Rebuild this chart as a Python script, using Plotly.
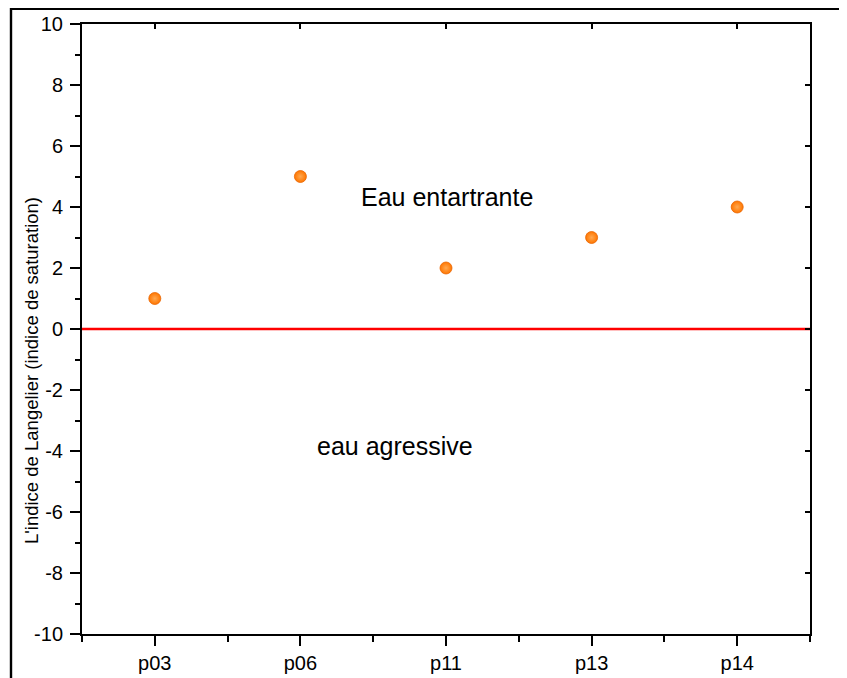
import plotly.graph_objects as go

categories = ["p03", "p06", "p11", "p13", "p14"]
values = [1, 5, 2, 3, 4]
y_ticks = [-10, -8, -6, -4, -2, 0, 2, 4, 6, 8, 10]
y_ticktext = [str(v) for v in y_ticks]  # hyphen-minus as in the original

W, H = 847, 678
OFF = 8  # page body margin
L, R, T, B = 82 - OFF, 810 - OFF, 24 - OFF, 634 - OFF

xpos = list(range(len(categories)))

fig = go.Figure()
fig.add_trace(go.Scatter(
    x=[-0.5, len(categories) - 0.5], y=[0, 0], mode="lines",
    line=dict(color="#ff0000", width=2.5), hoverinfo="skip", showlegend=False,
))
fig.add_trace(go.Scatter(
    x=xpos, y=values, mode="markers",
    marker=dict(size=12, color="#ff7600",
                gradient=dict(type="radial", color="#ffa850"),
                line=dict(color="#e86400", width=0.8)),
    showlegend=False,
))

font = dict(family="Arial, Liberation Sans, sans-serif", color="black")

def px_x(p):
    return (p - L) / (R - L)

def px_y(p):
    return (B - p) / (B - T)

fig.update_layout(
    width=W, height=H,
    margin=dict(l=L, r=W - R, t=T, b=H - B, autoexpand=False),
    paper_bgcolor="white", plot_bgcolor="white",
    font=font,
    xaxis=dict(
        range=[-0.5, len(categories) - 0.5], tickmode="array", tickvals=xpos,
        ticktext=categories, ticks="outside", ticklen=10, tickwidth=1.5,
        tickcolor="black", showline=True, linecolor="black", linewidth=2,
        showgrid=False, zeroline=False, tickfont=dict(size=20, **font),
        automargin=False,
        minor=dict(tickmode="array", tickvals=[-0.5, 0.5, 1.5, 2.5, 3.5, 4.5],
                   ticks="outside", ticklen=6, tickwidth=1.5, tickcolor="black",
                   showgrid=False),
        fixedrange=True,
    ),
    yaxis=dict(
        range=[-10, 10], tickmode="array", tickvals=y_ticks, ticktext=y_ticktext,
        ticks="outside", ticklen=10, tickwidth=1.5, tickcolor="black",
        showline=True, linecolor="black", linewidth=2, showgrid=False,
        zeroline=False, tickfont=dict(size=20, **font), ticklabelstandoff=3,
        automargin=False,
        minor=dict(dtick=1, tick0=0, ticks="outside", ticklen=5, tickwidth=1.5,
                   tickcolor="black", showgrid=False),
        fixedrange=True,
    ),
    xaxis2=dict(
        overlaying="x", side="top", range=[-0.5, len(categories) - 0.5],
        tickmode="array", tickvals=xpos, showticklabels=False,
        ticks="inside", ticklen=5, tickwidth=1.5, tickcolor="black",
        showline=True, linecolor="black", linewidth=2, showgrid=False,
        zeroline=False, automargin=False,
    ),
    yaxis2=dict(
        overlaying="y", side="right", range=[-10, 10],
        tickmode="array", tickvals=y_ticks, showticklabels=False,
        ticks="inside", ticklen=5, tickwidth=1.5, tickcolor="black",
        showline=True, linecolor="black", linewidth=2, showgrid=False,
        zeroline=False, automargin=False,
    ),
    annotations=[
        dict(x=2.01, y=4.33, xref="x", yref="y", text="Eau entartrante",
             showarrow=False, font=dict(size=25, **font)),
        dict(x=1.65, y=-3.84, xref="x", yref="y", text="eau agressive",
             showarrow=False, font=dict(size=25, **font)),
        dict(x=px_x(31 - OFF), y=px_y(371 - OFF), xref="paper", yref="paper",
             xanchor="center", yanchor="middle",
             text="L'indice de Langelier (indice de saturation)", textangle=-90,
             showarrow=False, font=dict(size=18.5, **font)),
    ],
    shapes=[
        dict(type="rect", xref="paper", yref="paper",
             x0=px_x(11 - OFF), x1=px_x(870),
             y0=px_y(700), y1=px_y(0.7),
             line=dict(color="black", width=2.4), fillcolor="rgba(0,0,0,0)",
             layer="above"),
    ],
)
# invisible trace to activate secondary axes
fig.add_trace(go.Scatter(x=[None], y=[None], xaxis="x2", yaxis="y2",
                         showlegend=False, hoverinfo="skip"))

fig.write_html("out.html")
